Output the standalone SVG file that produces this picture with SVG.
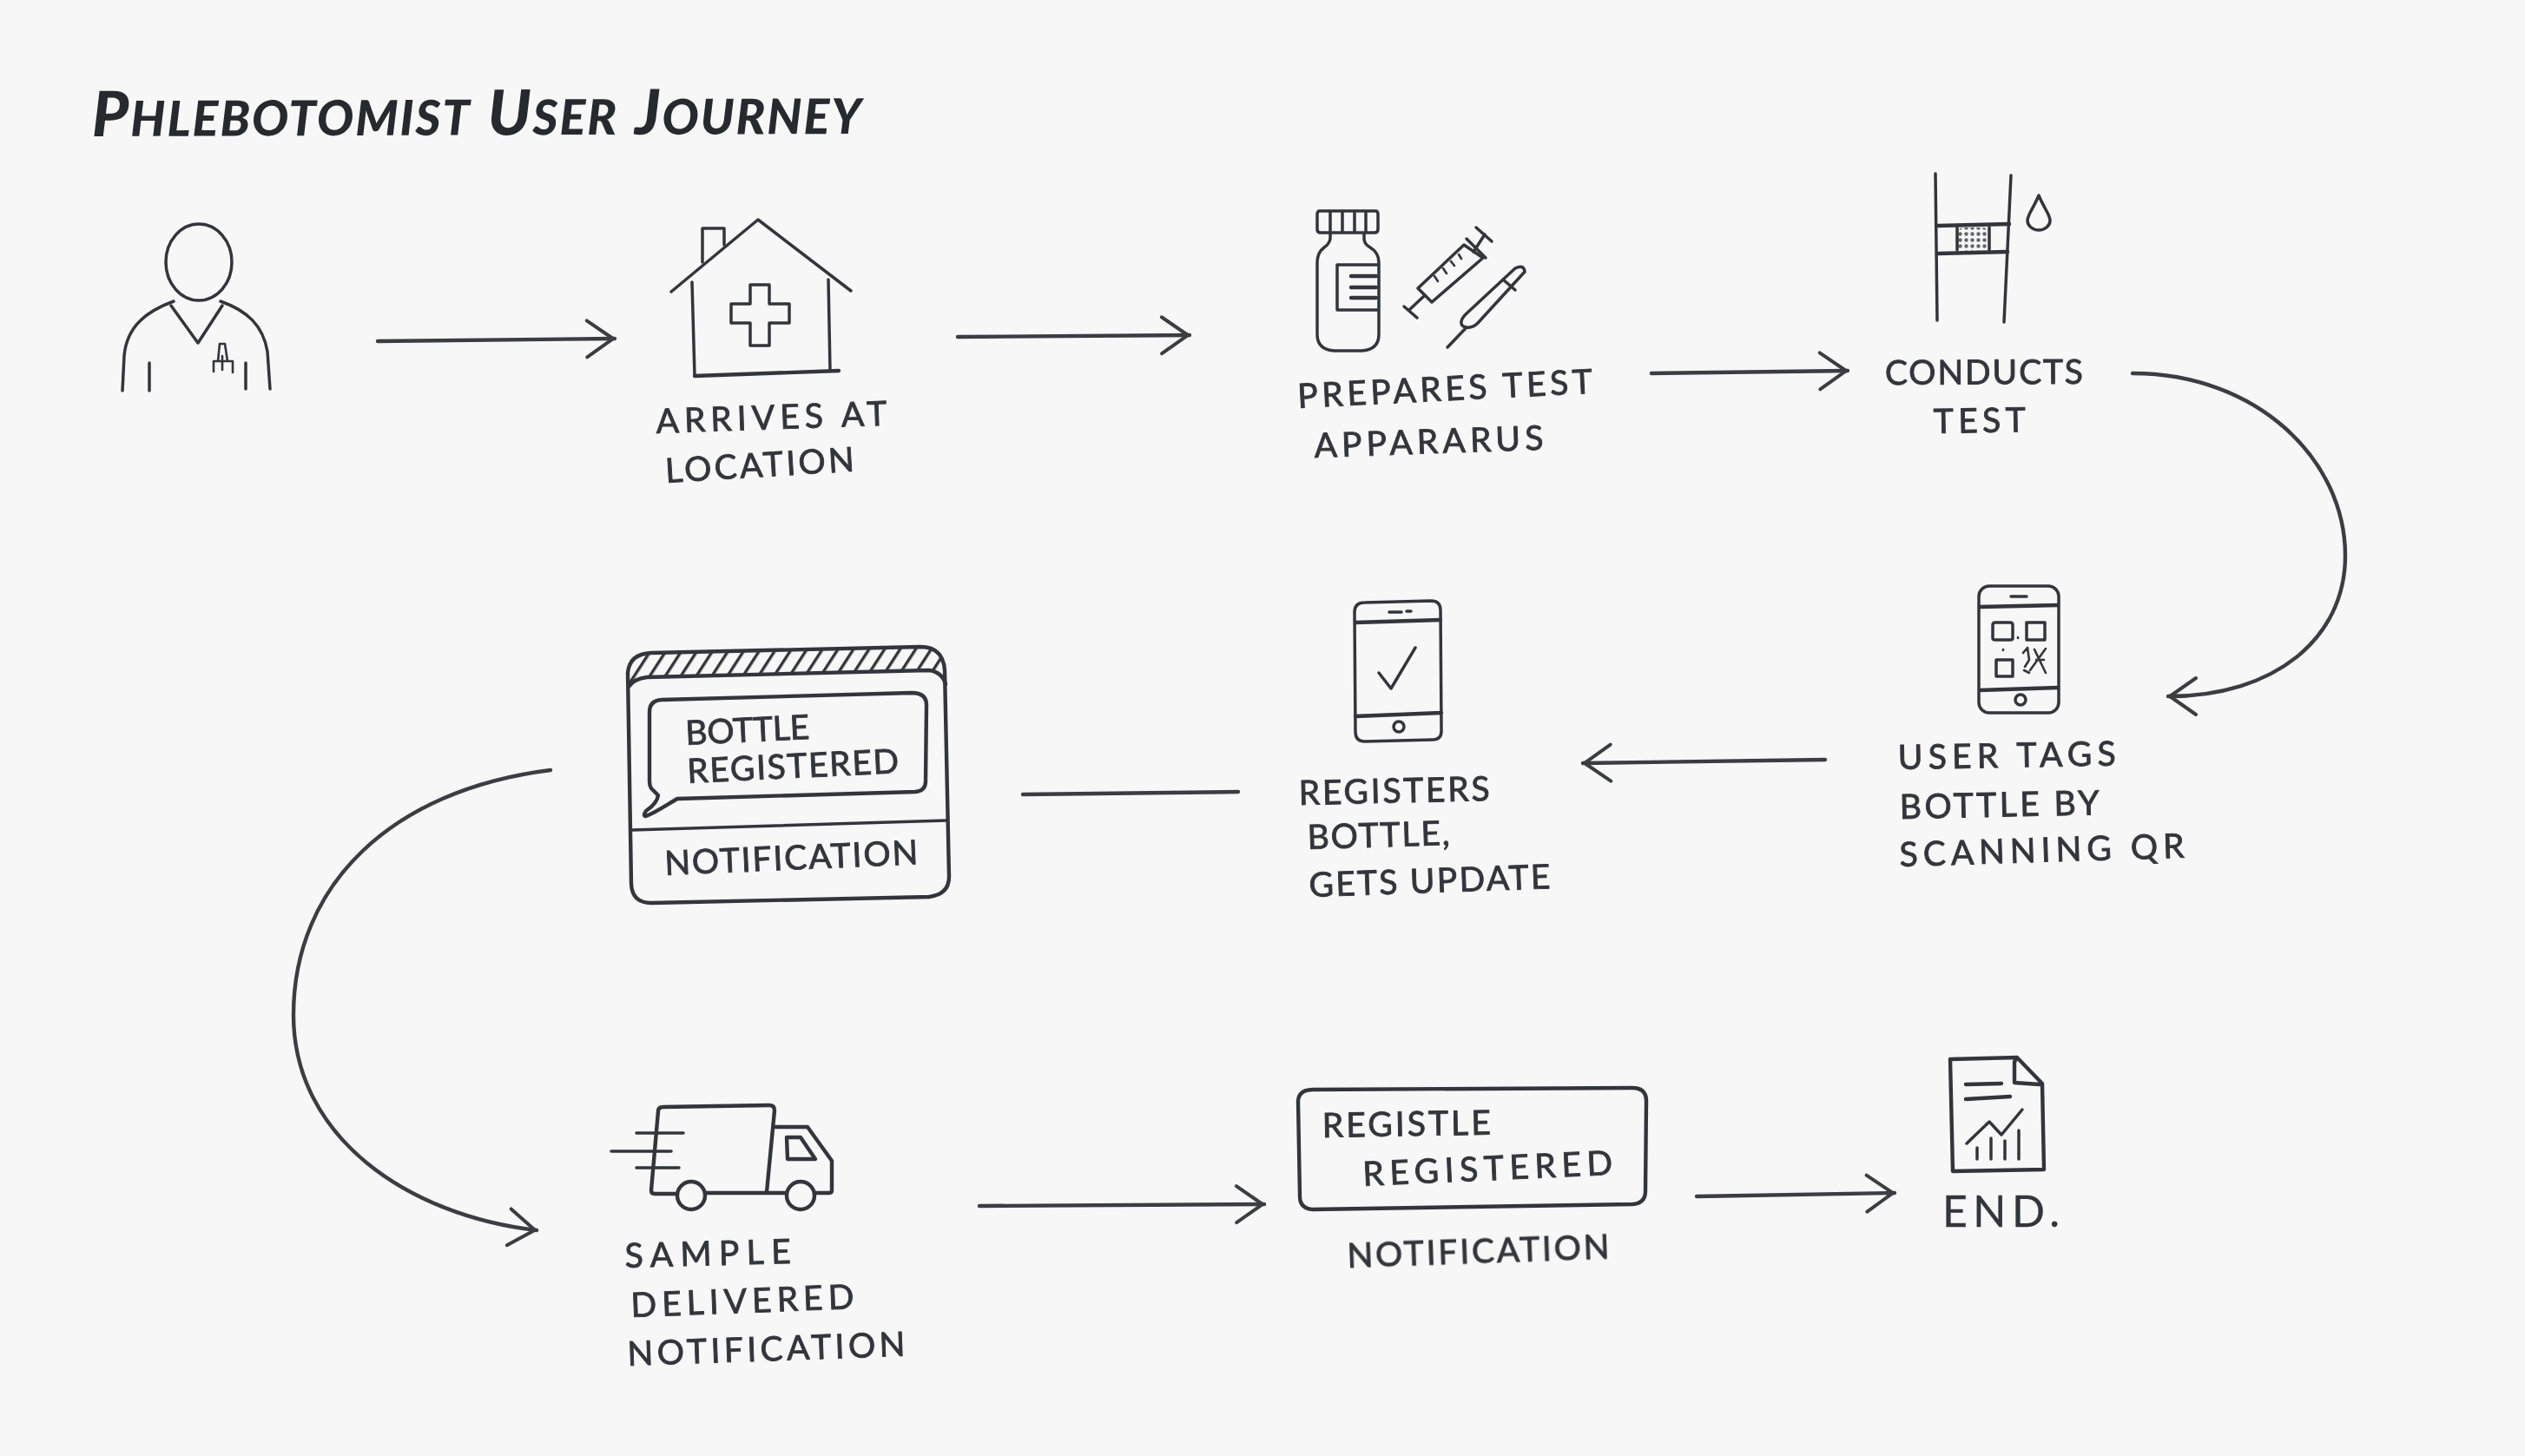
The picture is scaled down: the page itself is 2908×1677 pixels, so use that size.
<svg xmlns="http://www.w3.org/2000/svg" width="2908" height="1677" viewBox="0 0 2908 1677">
<style>
.i{fill:none;stroke:#33363b;stroke-width:3.5;stroke-linecap:round;stroke-linejoin:round}
.t{stroke-width:2.6}
.b{stroke-width:4.4}
.c{fill:none;stroke:#3a3d42;stroke-width:4.4;stroke-linecap:round;stroke-linejoin:round}
.l{font-family:"Lato","Liberation Sans",sans-serif;font-size:39px;fill:#33363b;stroke:#33363b;stroke-width:.9;font-weight:400}
.h{font-family:"Lato","Liberation Sans",sans-serif;font-size:80px;font-weight:900;font-style:italic;font-variant:small-caps;fill:#26292e}
.k{font-size:72px}
</style>
<defs>
<filter id="soft" filterUnits="userSpaceOnUse" x="0" y="0" width="2908" height="1677"><feGaussianBlur stdDeviation="0.7"/></filter>
<marker id="head" markerUnits="userSpaceOnUse" markerWidth="50" markerHeight="60" viewBox="-40 -30 50 60" refX="2" refY="0" orient="auto">
<path d="M-30,-21 L0,0 L-30,21" fill="none" stroke="#3a3d42" stroke-width="4" stroke-linecap="round" stroke-linejoin="round"/>
</marker>
<pattern id="hatch" patternUnits="userSpaceOnUse" width="15" height="15" patternTransform="rotate(33)">
<rect x="0" y="0" width="3.4" height="15" fill="#33363b"/>
</pattern>
<pattern id="dots" patternUnits="userSpaceOnUse" width="7" height="7">
<circle cx="3.5" cy="3.5" r="2.2" fill="#63666b"/>
</pattern>
</defs>
<rect width="2908" height="1677" fill="#f7f7f7"/>
<g filter="url(#soft)">
<text class="h" x="106" y="157" textLength="886" lengthAdjust="spacing" transform="rotate(-0.2 106 157)"><tspan class="k">P</tspan>hlebotomist <tspan class="k">U</tspan>ser <tspan class="k">J</tspan>ourney</text>

<g id="connectors">
<path class="c" marker-end="url(#head)" d="M435,393 L708,390"/>
<path class="c" marker-end="url(#head)" d="M1103,388 L1370,386"/>
<path class="c" marker-end="url(#head)" d="M1902,430 L2128,427"/>
<path class="c" marker-end="url(#head)" d="M2456,430 C2600,430 2701,530 2701,640 C2701,735 2620,802 2497,802"/>
<path class="c" marker-end="url(#head)" d="M2102,875 L1823,879"/>
<path class="c" d="M1178,915 L1426,912"/>
<path class="c" marker-end="url(#head)" d="M634,887 C450,910 338,1020 338,1169 C338,1310 470,1400 618,1417"/>
<path class="c" marker-end="url(#head)" d="M1128,1389 L1456,1387"/>
<path class="c" marker-end="url(#head)" d="M1954,1378 L2182,1374"/>
</g>

<g id="node-phlebotomist">
<ellipse class="i" cx="229" cy="302" rx="38" ry="44"/>
<path class="i" d="M141,450 L143,410 C146,375 170,358 200,347"/>
<path class="i" d="M311,448 L308,405 C303,375 285,358 254,347"/>
<path class="i" d="M197,352 L228,395 L256,352"/>
<path class="i" d="M172,418 V450 M283,418 V448"/>
<path class="i t" d="M246,416 V428 M253,396 L251,416 M259,396 L262,416 M268,416 V429 M246,416 H268 M256,410 V426 M253,396 H259"/>
</g>

<g id="node-arrives">
<path class="i" d="M773,336 L873,253 L980,335"/>
<path class="i" d="M797,325 L800,433 M954,322 L956,427"/>
<path class="i b" d="M800,433 L966,427"/>
<path class="i" d="M809,302 V263 H834 V282"/>
<path class="i" d="M864,328 H886 V350 H909 V372 H886 V398 H864 V372 H842 V350 H864 Z"/>
<text class="l" x="756" y="499" textLength="266" lengthAdjust="spacing" transform="rotate(-2 756 499)">ARRIVES AT</text>
<text class="l" x="767" y="556" textLength="218" lengthAdjust="spacing" transform="rotate(-3.5 767 556)">LOCATION</text>
</g>

<g id="node-prepares">
<path class="i" d="M1520,243 H1584 Q1587,243 1587,247 V264 Q1587,268 1583,268 H1521 Q1517,268 1517,264 V247 Q1517,243 1520,243 Z M1532,244 V267 M1546,244 V267 M1560,244 V267 M1573,244 V267"/>
<path class="i" d="M1532,269 V275 Q1531,281 1525,285 Q1517,291 1517,302 V385 Q1517,403 1537,404 H1568 Q1588,403 1588,385 V302 Q1588,291 1578,285 Q1571,281 1571,275 V269"/>
<path class="i" d="M1587,305 H1540 V357 H1587"/>
<path class="i b" d="M1556,318 H1585 M1556,331 H1585 M1556,343 H1585"/>
<path class="i" d="M1633,332 L1649,348 L1708,297 L1686,282 Z"/>
<path class="i" d="M1697,290 L1710,270 M1700,262 L1718,278 M1689,275 L1711,297"/>
<path class="i" d="M1641,340 L1623,357 M1617,353 L1632,366"/>
<path class="i t" d="M1652,318 L1656,324 M1662,309 L1666,315 M1671,301 L1675,306 M1680,293 L1683,298"/>
<path class="i" d="M1667,400 L1689,377 C1680,376 1682,368 1688,362 L1745,309 Q1755,304 1756,313 L1702,372 Q1696,378 1689,377"/>
<path class="i" d="M1731,322 L1745,334"/>
<text class="l" x="1495" y="470" textLength="340" lengthAdjust="spacing" transform="rotate(-2.9 1495 470)">PREPARES TEST</text>
<text class="l" x="1514" y="527" textLength="264" lengthAdjust="spacing" transform="rotate(-2 1514 527)">APPARARUS</text>
</g>

<g id="node-conducts">
<path class="i" d="M2229,200 L2231,369 M2316,202 L2308,371"/>
<path class="i b" d="M2232,260 L2314,258 M2232,292 L2312,290"/>
<rect x="2254" y="262" width="37" height="27" rx="8" fill="url(#dots)"/>
<path class="i" d="M2254,262 V288 M2291,262 V288"/>
<path class="i" d="M2348,225 C2342,240 2335,247 2335,254 A13,11 0 0 0 2361,254 C2361,247 2354,240 2348,225 Z"/>
<text class="l" x="2171" y="443" textLength="228" lengthAdjust="spacing" transform="rotate(-0.3 2171 443)">CONDUCTS</text>
<text class="l" x="2227" y="499" textLength="106" lengthAdjust="spacing" transform="rotate(-1 2227 499)">TEST</text>
</g>

<g id="node-scan">
<rect class="i" x="2279" y="675" width="92" height="146" rx="12"/>
<path class="i b" d="M2280,699 L2370,697 M2280,795 L2370,792"/>
<path class="i" d="M2316,687 H2334"/>
<circle class="i" cx="2327" cy="806" r="6"/>
<path class="i" d="M2295,720 Q2295,717 2298,717 H2315 Q2318,717 2318,720 V735 Q2318,737 2315,737 H2298 Q2295,737 2295,735 Z"/>
<rect class="i" x="2334" y="717" width="21" height="20"/>
<rect class="i" x="2299" y="760" width="19" height="19"/>
<path class="i t" d="M2307,748 V749 M2324,734 V735 M2330,752 L2335,746 L2337,760 L2332,768 M2343,748 L2356,775 M2356,747 L2338,772 M2345,760 H2354 M2331,772 L2337,775"/>
<text class="l" x="2186" y="886" textLength="251" lengthAdjust="spacing" transform="rotate(-1 2186 886)">USER TAGS</text>
<text class="l" x="2188" y="943" textLength="230" lengthAdjust="spacing" transform="rotate(-1.2 2188 943)">BOTTLE BY</text>
<text class="l" x="2188" y="998" textLength="328" lengthAdjust="spacing" transform="rotate(-1.8 2188 998)">SCANNING QR</text>
</g>

<g id="node-registers">
<path class="i" d="M1572,694 L1648,692 Q1659,692 1659,703 L1660,842 Q1660,852 1650,852 L1572,854 Q1561,854 1561,843 L1560,705 Q1560,694 1572,694 Z"/>
<path class="i b" d="M1561,717 L1659,714 M1561,825 L1660,821"/>
<path class="i" d="M1600,705 H1614 M1620,704 H1625"/>
<circle class="i" cx="1611" cy="837" r="6"/>
<path class="i" d="M1588,775 L1602,793 L1630,746"/>
<text class="l" x="1496" y="927" textLength="220" lengthAdjust="spacing" transform="rotate(-1.3 1496 927)">REGISTERS</text>
<text class="l" x="1506" y="978" textLength="164" lengthAdjust="spacing" transform="rotate(-1.7 1506 978)">BOTTLE,</text>
<text class="l" x="1508" y="1033" textLength="278" lengthAdjust="spacing" transform="rotate(-2 1508 1033)">GETS UPDATE</text>
</g>

<g id="node-notification">
<path d="M725,790 L724,775 Q726,753 750,752 L1060,745 Q1086,745 1089,770 L1089,788 Q1085,774 1070,772 L745,780 Q730,782 725,790 Z" fill="url(#hatch)"/>
<path class="i b" d="M750,752 L1060,745 Q1086,745 1088,772 L1093,1010 Q1093,1030 1070,1033 L750,1040 Q728,1040 727,1018 L723,775 Q725,753 750,752 Z"/>
<path class="i b" d="M725,790 Q730,782 745,780 L1070,772 Q1085,774 1089,788"/>
<path class="i" d="M728,956 L1090,945"/>
<path class="i b" d="M762,806 L1050,798 Q1067,798 1067,812 L1066,900 Q1066,911 1054,912 L780,920 C768,927 755,936 744,940 Q740,940 744,934 Q757,925 758,916 L750,908 Q748,905 748,900 V820 Q748,807 762,806 Z"/>
<text class="l" x="790" y="858" textLength="143" lengthAdjust="spacing" transform="rotate(-2.8 790 858)">BOTTLE</text>
<text class="l" x="792" y="902" textLength="244" lengthAdjust="spacing" transform="rotate(-2.8 792 902)">REGISTERED</text>
<text class="l" x="766" y="1008" textLength="292" lengthAdjust="spacing" transform="rotate(-2.5 766 1008)">NOTIFICATION</text>
</g>

<g id="node-delivered">
<path class="i b" d="M780,1375 L754,1375 Q750,1375 750,1371 L758,1280 Q758,1275 764,1275 L886,1273 Q892,1273 892,1279 L883,1373"/>
<path class="i b" d="M813,1374 H906 M938,1374 H955 Q958,1374 958,1371 V1337 L930,1298 H893"/>
<circle class="i b" cx="796" cy="1377" r="16"/>
<circle class="i b" cx="922" cy="1377" r="16"/>
<path class="i b" d="M906,1310 H922 L939,1335 H907 Z"/>
<path class="i" d="M733,1305 H787 M704,1326 H773 M733,1345 H782"/>
<text class="l" x="720" y="1460" textLength="191" lengthAdjust="spacing" transform="rotate(-1.5 720 1460)">SAMPLE</text>
<text class="l" x="727" y="1517" textLength="257" lengthAdjust="spacing" transform="rotate(-2.2 727 1517)">DELIVERED</text>
<text class="l" x="723" y="1573" textLength="320" lengthAdjust="spacing" transform="rotate(-2 723 1573)">NOTIFICATION</text>
</g>

<g id="node-registle">
<path class="i b" d="M1512,1255 L1880,1253 Q1896,1253 1896,1268 L1895,1372 Q1895,1386 1880,1387 L1512,1393 Q1497,1392 1497,1378 L1495,1268 Q1496,1255 1512,1255 Z"/>
<text class="l" x="1523" y="1310" textLength="194" lengthAdjust="spacing" transform="rotate(-1 1523 1310)">REGISTLE</text>
<text class="l" x="1570" y="1366" textLength="288" lengthAdjust="spacing" transform="rotate(-2.6 1570 1366)">REGISTERED</text>
<text class="l" x="1552" y="1460" textLength="302" lengthAdjust="spacing" transform="rotate(-2 1552 1460)">NOTIFICATION</text>
</g>

<g id="node-end">
<path class="i b" d="M2323,1218 L2246,1220 L2249,1349 L2354,1347 L2352,1248 L2323,1218 L2320,1223 V1247 L2349,1249"/>
<path class="i b" d="M2264,1249 L2305,1248 M2264,1266 L2315,1263"/>
<path class="i" d="M2265,1317 L2291,1292 L2305,1307 L2329,1278"/>
<path class="i" d="M2277,1322 V1335 M2293,1311 V1335 M2309,1314 V1335 M2325,1302 V1335"/>
<text class="l" x="2237" y="1413" textLength="135" lengthAdjust="spacing" style="font-size:50px;stroke-width:.3">END.</text>
</g>
</g>
</svg>
